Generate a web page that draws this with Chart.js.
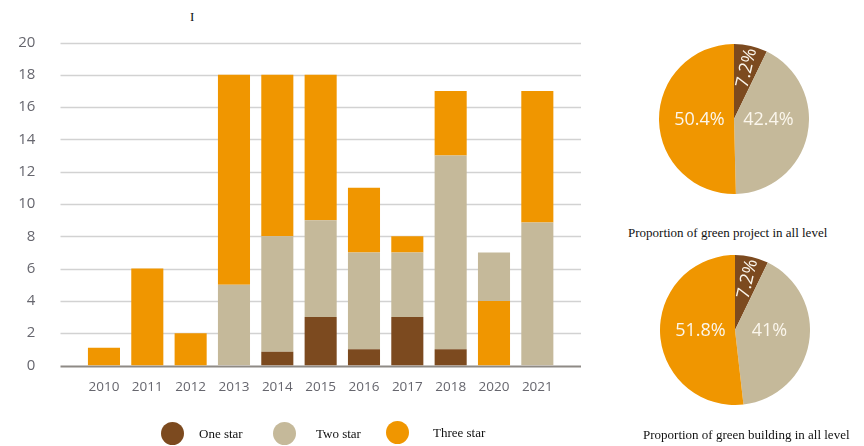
<!DOCTYPE html>
<html>
<head>
<meta charset="utf-8">
<script src="https://cdn.jsdelivr.net/npm/chart.js@4.4.1/dist/chart.umd.min.js"></script>
<style>
    body { margin: 0; background: #fff; width: 864px; height: 446px; position: relative; overflow: hidden; }
    canvas, .txt, .dot { position: absolute; }
    .txt { font-family: "Liberation Serif", "Times New Roman", serif; font-size: 13px; color: #111; white-space: nowrap; line-height: 1; }
    .dot { width: 23px; height: 23px; border-radius: 50%; }
</style>
</head>
<body>
<div class="txt" style="left:190px; top:10px;">I</div>
<canvas id="graficoBarras" width="600" height="446" style="left:0; top:0;"></canvas>

<div class="dot" style="left:161px; top:422px; background:#7c4a1f;"></div>
<div class="txt" style="left:199px; top:427px;">One star</div>
<div class="dot" style="left:273px; top:422px; background:#c5b99a;"></div>
<div class="txt" style="left:316px; top:427px;">Two star</div>
<div class="dot" style="left:386px; top:421px; background:#f09600;"></div>
<div class="txt" style="left:433px; top:426px;">Three star</div>

<canvas id="tartaProyectos" width="150" height="150" style="left:659px; top:44px;"></canvas>
<div class="txt" style="left:628px; top:226px;">Proportion of green project in all level</div>
<canvas id="tartaEdificios" width="150" height="150" style="left:660px; top:255px;"></canvas>
<div class="txt" style="left:643px; top:428px;">Proportion of green building in all level</div>

<script>
const anios = ["2010", "2011", "2012", "2013", "2014", "2015", "2016", "2017", "2018", "2020", "2021"];
const unaEstrella = [0, 0, 0, 0, 0.85, 3, 1, 3, 1, 0, 0];
const tresEstrellasAbajo = [0, 0, 0, 0, 0, 0, 0, 0, 0, 4, 0];
const dosEstrellas = [0, 0, 0, 5, 7.15, 6, 6, 4, 12, 3, 8.85];
const tresEstrellas = [1.1, 6, 2, 13, 10, 9, 4, 1, 4, 0, 8.15];
const marcasY = [0, 2, 4, 6, 8, 10, 12, 14, 16, 18, 20];

const nivelesTarta = ["One star", "Two star", "Three star"];
const partesProyectos = [7.2, 42.4, 50.4];
const partesEdificios = [7.2, 41, 51.8];

const MARRON = "#7c4a1f";
const BEIGE = "#c5b99a";
const NARANJA = "#f09600";

// lineas horizontales mas anchas que el area de barras
const lineasGuia = {
    id: "lineasGuia",
    beforeDatasetsDraw(chart) {
        const { ctx, scales } = chart;
        ctx.save();
        marcasY.forEach((v) => {
            const y = Math.round(scales.y.getPixelForValue(v)) + 0.5;
            ctx.beginPath();
            ctx.moveTo(60.5, y);
            ctx.lineTo(581, y);
            ctx.lineWidth = v === 0 ? 2 : 1.6;
            ctx.strokeStyle = v === 0 ? "#8e8a85" : "#d2d2d2";
            ctx.stroke();
        });
        ctx.restore();
    },
};

new Chart(document.getElementById("graficoBarras").getContext("2d"), {
    type: "bar",
    data: {
        labels: anios,
        datasets: [
            { label: "One star", data: unaEstrella, backgroundColor: MARRON },
            { label: "Three star low", data: tresEstrellasAbajo, backgroundColor: NARANJA },
            { label: "Two star", data: dosEstrellas, backgroundColor: BEIGE },
            { label: "Three star", data: tresEstrellas, backgroundColor: NARANJA },
        ],
    },
    options: {
        responsive: false,
        animation: false,
        events: [],
        layout: { padding: { left: 0, right: 41, top: 42.5, bottom: 0 } },
        datasets: { bar: { barPercentage: 0.74, categoryPercentage: 1 } },
        plugins: { legend: { display: false }, tooltip: { enabled: false } },
        scales: {
            x: {
                stacked: true,
                grid: { display: false, drawTicks: false },
                border: { display: false },
                ticks: { color: "#66666e", padding: 14, font: { family: "Open Sans", size: 13.5 } },
                afterFit: (s) => { s.height = 80.5; },
            },
            y: {
                stacked: true,
                min: 0,
                max: 20,
                afterBuildTicks: (s) => { s.ticks = marcasY.map((v) => ({ value: v })); },
                grid: { display: false, drawTicks: false },
                border: { display: false },
                ticks: { color: "#66666e", padding: 47, font: { family: "Open Sans", size: 15 } },
                afterFit: (s) => {
                    s.width = 82.3;
                    // el padding de las etiquetas no debe empujar el area hacia abajo
                    s.paddingTop = 8;
                    s.paddingBottom = 8;
                },
            },
        },
    },
    plugins: [lineasGuia],
});

// porcentajes dentro de cada porcion
const etiquetasTarta = {
    id: "etiquetasTarta",
    afterDatasetsDraw(chart) {
        const { ctx } = chart;
        const meta = chart.getDatasetMeta(0);
        const valores = chart.data.datasets[0].data;
        ctx.save();
        ctx.fillStyle = "#fbf6ec";
        ctx.font = "18px 'Open Sans'";
        ctx.textAlign = "center";
        ctx.textBaseline = "middle";
        meta.data.forEach((arco, i) => {
            const medio = (arco.startAngle + arco.endAngle) / 2;
            const texto = valores[i] + "%";
            if (valores[i] < 15) {
                const r = arco.outerRadius * 0.7;
                ctx.save();
                ctx.translate(arco.x + Math.cos(medio) * r, arco.y + Math.sin(medio) * r);
                ctx.rotate(medio);
                ctx.fillText(texto, 0, 1);
                ctx.restore();
            } else {
                const lado = Math.cos(medio) >= 0 ? 1 : -1;
                ctx.fillText(texto, arco.x + lado * arco.outerRadius * 0.46, arco.y + 1);
            }
        });
        ctx.restore();
    },
};

function dibujarTarta(idCanvas, partes) {
    new Chart(document.getElementById(idCanvas).getContext("2d"), {
        type: "pie",
        data: {
            labels: nivelesTarta,
            datasets: [{ data: partes, backgroundColor: [MARRON, BEIGE, NARANJA], borderWidth: 0 }],
        },
        options: {
            responsive: false,
            animation: false,
            events: [],
            layout: { padding: 0 },
            plugins: { legend: { display: false }, tooltip: { enabled: false } },
        },
        plugins: [etiquetasTarta],
    });
}

dibujarTarta("tartaProyectos", partesProyectos);
dibujarTarta("tartaEdificios", partesEdificios);
</script>
</body>
</html>
